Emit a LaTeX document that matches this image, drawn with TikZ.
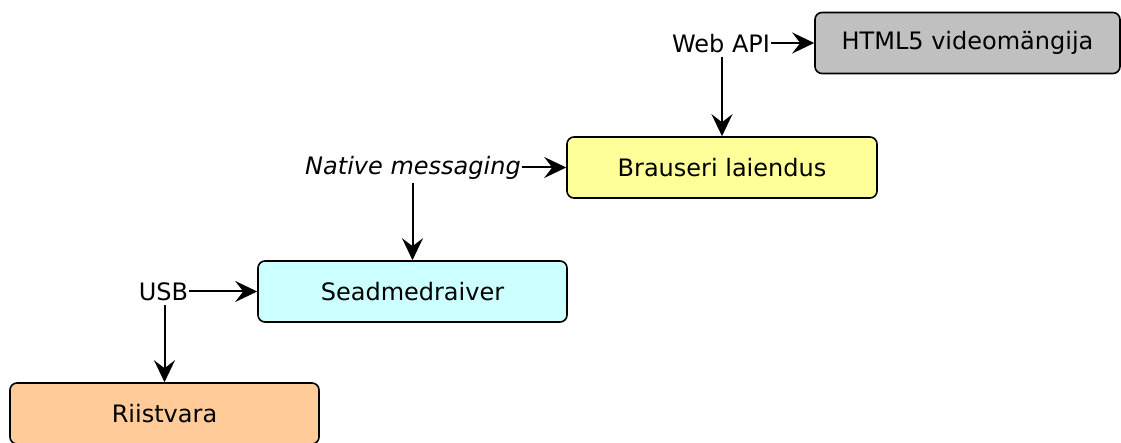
\documentclass[tikz,border=0pt]{standalone}
\usepackage{fontspec}
\setmainfont{DejaVu Sans}
\usetikzlibrary{arrows.meta}
\definecolor{boxgray}{HTML}{C0C0C0}
\definecolor{boxyellow}{HTML}{FFFF99}
\definecolor{boxcyan}{HTML}{CCFFFF}
\definecolor{boxorange}{HTML}{FFCC99}
\begin{document}
\begin{tikzpicture}[x=1pt,y=-1pt,
  layer/.style={draw=black, line width=1.6pt, rounded corners=7pt,
    minimum height=61pt, inner sep=0pt, font=\fontsize{24}{28}\selectfont},
  iface/.style={inner sep=1pt, font=\fontsize{24}{28}\selectfont},
  link/.style={line width=2pt, -{Stealth[length=22pt,width=21pt,inset=8pt]}}]
\useasboundingbox (0,0) rectangle (1121,443);
% software layers, top to bottom
\node[layer, fill=boxgray,   minimum width=305pt] (player)  at (967.5,43)  {HTML5 videomängija};
\node[layer, fill=boxyellow, minimum width=310pt] (ext)     at (722,167.5) {Brauseri laiendus};
\node[layer, fill=boxcyan,   minimum width=309pt] (driver)  at (412.5,291.5) {Seadmedraiver};
\node[layer, fill=boxorange, minimum width=309pt] (hw)      at (164.5,413.5) {Riistvara};
% interfaces between layers
\node[iface] (webapi) at (721,44)   {Web API};
\node[iface] (native) at (413,167.5)  {\itshape Native messaging};
\node[iface] (usb)    at (163.5,292)  {USB};
\draw[link] (webapi.east |- player.west) -- (player.west);
\draw[link] ([yshift=-3pt]webapi.south -| ext.north) -- (ext.north);
\draw[link] (native.east |- ext.west) -- (ext.west);
\draw[link] ([yshift=-3pt]native.south -| driver.north) -- (driver.north);
\draw[link] (usb.east |- driver.west) -- (driver.west);
\draw[link] ([yshift=-3pt]usb.south -| hw.north) -- (hw.north);
\end{tikzpicture}
\end{document}
